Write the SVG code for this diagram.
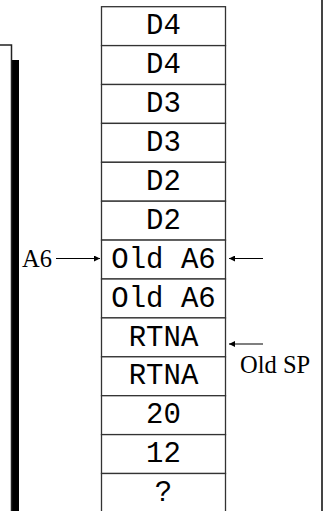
<svg xmlns="http://www.w3.org/2000/svg" width="329" height="511" viewBox="0 0 329 511">
<defs>
<style>
.cell{fill:#fff;stroke:#333;stroke-width:1.3}
.mono{font-family:"Liberation Mono","Courier New",monospace;font-size:29px;fill:#000;text-anchor:middle}
.serif{font-family:"Liberation Serif","Times New Roman",serif;font-size:24.5px;fill:#000}
.conn{stroke:#000;stroke-width:1.2;fill:none}
</style>
<marker id="ah" viewBox="0 0 10 10" refX="10" refY="5" markerWidth="8" markerHeight="6" markerUnits="userSpaceOnUse" orient="auto">
<path d="M0,0 L10,5 L0,10 z" fill="#000"/>
</marker>
</defs>
<rect width="329" height="511" fill="#fff"/>
<g id="left-box">
<rect x="12" y="60" width="7" height="460" fill="#000"/>
<rect x="-2" y="45" width="13.5" height="470" fill="#fff" stroke="#222" stroke-width="1.5"/>
</g>
<line id="right-rule" x1="322" y1="0" x2="322" y2="511" stroke="#444" stroke-width="2"/>
<g id="stack">
<g id="r1"><rect class="cell" x="101.5" y="6.7" width="124" height="38.9"/><text class="mono" x="163.5" y="34.3">D4</text></g>
<g id="r2"><rect class="cell" x="101.5" y="45.6" width="124" height="38.9"/><text class="mono" x="163.5" y="73.2">D4</text></g>
<g id="r3"><rect class="cell" x="101.5" y="84.5" width="124" height="38.9"/><text class="mono" x="163.5" y="112.1">D3</text></g>
<g id="r4"><rect class="cell" x="101.5" y="123.4" width="124" height="38.9"/><text class="mono" x="163.5" y="151">D3</text></g>
<g id="r5"><rect class="cell" x="101.5" y="162.3" width="124" height="38.9"/><text class="mono" x="163.5" y="189.9">D2</text></g>
<g id="r6"><rect class="cell" x="101.5" y="201.2" width="124" height="38.9"/><text class="mono" x="163.5" y="228.8">D2</text></g>
<g id="r7"><rect class="cell" x="101.5" y="240.1" width="124" height="38.9"/><text class="mono" x="163.5" y="267.7">Old A6</text></g>
<g id="r8"><rect class="cell" x="101.5" y="279" width="124" height="38.9"/><text class="mono" x="163.5" y="306.6">Old A6</text></g>
<g id="r9"><rect class="cell" x="101.5" y="317.9" width="124" height="38.9"/><text class="mono" x="163.5" y="345.5">RTNA</text></g>
<g id="r10"><rect class="cell" x="101.5" y="356.8" width="124" height="38.9"/><text class="mono" x="163.5" y="384.4">RTNA</text></g>
<g id="r11"><rect class="cell" x="101.5" y="395.7" width="124" height="38.9"/><text class="mono" x="163.5" y="423.3">20</text></g>
<g id="r12"><rect class="cell" x="101.5" y="434.6" width="124" height="38.9"/><text class="mono" x="163.5" y="462.2">12</text></g>
<g id="r13"><rect class="cell" x="101.5" y="473.5" width="124" height="38.9"/><text class="mono" x="163.5" y="501.1">?</text></g>
</g>
<g id="labels">
<text class="serif" x="22" y="267">A6</text>
<text class="serif" x="240" y="373">Old SP</text>
</g>
<g id="connectors">
<line class="conn" x1="56" y1="258.5" x2="100" y2="258.5" marker-end="url(#ah)"/>
<line class="conn" x1="263" y1="258.5" x2="229" y2="258.5" marker-end="url(#ah)"/>
<line class="conn" x1="263" y1="344" x2="229" y2="344" marker-end="url(#ah)"/>
</g>
</svg>
